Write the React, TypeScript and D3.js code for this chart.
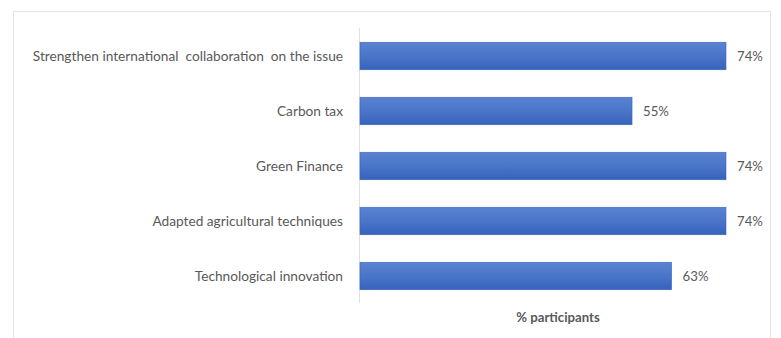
import React from "react";
import * as d3 from "d3";

const categories = [
  "Strengthen international  collaboration  on the issue",
  "Carbon tax",
  "Green Finance",
  "Adapted agricultural techniques",
  "Technological innovation",
];
const values = [74, 55, 74, 74, 63];
const axisTitle = "% participants";

const W = 781;
const H = 338;

export default function App() {
  const x = d3.scaleLinear().domain([0, 74]).range([360, 726]);
  const y = d3.scaleBand<string>().domain(categories).range([28.5, 303.5]).paddingInner(0.5).paddingOuter(0.25);
  const font = "Lato, 'DejaVu Sans', sans-serif";
  return (
    <svg width={W} height={H} style={{ position: "absolute", left: 0, top: 0 }} xmlns="http://www.w3.org/2000/svg">
      <defs>
        <linearGradient id="barGrad" x1="0" y1="0" x2="0" y2="1">
          <stop offset="0%" stopColor="#5a83d1" />
          <stop offset="50%" stopColor="#4a75c8" />
          <stop offset="100%" stopColor="#3762bd" />
        </linearGradient>
      </defs>
      <rect x={0} y={0} width={W} height={H} fill="#ffffff" />
      <rect x={13.5} y={11.5} width={757} height={H} fill="#ffffff" stroke="#e3e3e3" strokeWidth={1} />
      <line x1={359.5} x2={359.5} y1={28} y2={303} stroke="#e0e0e0" strokeWidth={1} />
      {categories.map((c, i) => {
        const by = y(c)!;
        const bh = y.bandwidth();
        return (
          <g key={c}>
            <rect x={x(0)} y={by} width={x(values[i]) - x(0)} height={bh} fill="url(#barGrad)" stroke="#3a66bf" strokeWidth={0.6} />
            <text x={343} y={by + bh / 2} dy="0.35em" textAnchor="end" fontFamily={font} fontSize={13.7} fill="#595959" xmlSpace="preserve">{c}</text>
            <text x={x(values[i]) + 11} y={by + bh / 2} dy="0.35em" fontFamily={font} fontSize={13.2} fill="#595959">{values[i]}%</text>
          </g>
        );
      })}
      <text x={558} y={317} dy="0.35em" textAnchor="middle" fontFamily={font} fontSize={13.2} fontWeight="bold" fill="#595959">{axisTitle}</text>
    </svg>
  );
}
